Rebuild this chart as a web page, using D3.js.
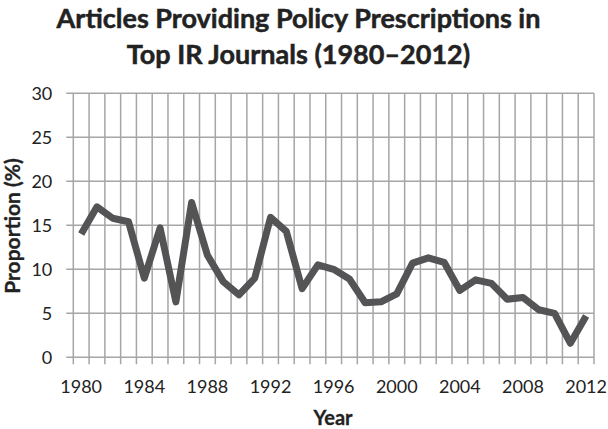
<!DOCTYPE html>
<html><head><meta charset="utf-8">
<script src="https://cdn.jsdelivr.net/npm/d3@7"></script>
<style>body{margin:0;background:#fff}svg{display:block}</style>
</head><body>
<script>
const years = d3.range(1980, 2013);
const values = [14.0,17.1,15.8,15.4,9.0,14.7,6.3,17.6,11.6,8.6,7.1,9.0,15.9,14.3,7.8,10.5,10.0,8.9,6.2,6.3,7.2,10.7,11.3,10.8,7.6,8.8,8.4,6.6,6.8,5.4,5.0,1.6,4.7];
const yTicks = [0,5,10,15,20,25,30];
const xLabels = [1980,1984,1988,1992,1996,2000,2004,2008,2012];
const titleLines = ["Articles Providing Policy Prescriptions in","Top IR Journals (1980–2012)"];

const W=608,H=429;
const m={left:73.3,right:594,top:93.3,bottom:357.3};
const svg=d3.select("body").append("svg").attr("width",W).attr("height",H);
const font="Lato, 'Open Sans', sans-serif";

const x=d3.scaleBand().domain(years).range([m.left,m.right]).padding(0);
const y=d3.scaleLinear().domain([0,30]).range([m.bottom,m.top]);
const grid="#a6a6a6";

// horizontal gridlines with ticks
svg.append("g").selectAll("line").data(yTicks).join("line")
  .attr("x1",m.left-7).attr("x2",m.right).attr("y1",d=>y(d)).attr("y2",d=>y(d))
  .attr("stroke",grid).attr("stroke-width",1.5);
// vertical gridlines at band boundaries
const bounds = years.map(d=>x(d)).concat([x(years[years.length-1])+x.bandwidth()]);
svg.append("g").selectAll("line").data(bounds).join("line")
  .attr("x1",d=>d).attr("x2",d=>d).attr("y1",m.top).attr("y2",m.bottom+7)
  .attr("stroke",grid).attr("stroke-width",1.5);

// y labels
svg.append("g").selectAll("text").data(yTicks).join("text")
  .attr("x",m.left-21).attr("y",d=>y(d)).attr("dy","0.36em").attr("text-anchor","end")
  .attr("font-family",font).attr("font-size",18).attr("fill","#222").text(d=>d);
// x labels
svg.append("g").selectAll("text").data(xLabels).join("text")
  .attr("x",d=>x(d)+x.bandwidth()/2).attr("y",393).attr("text-anchor","middle")
  .attr("font-family",font).attr("font-size",18).attr("fill","#222").text(d=>d);

// line
const line=d3.line().x((d,i)=>x(years[i])+x.bandwidth()/2).y(d=>y(d)).curve(d3.curveLinear);
svg.append("path").datum(values).attr("d",line).attr("fill","none")
  .attr("stroke","#545456").attr("stroke-width",7).attr("stroke-linejoin","round").attr("stroke-linecap","butt");

// titles
svg.append("g").selectAll("text").data(titleLines).join("text")
  .attr("x",298.5).attr("y",(d,i)=>28+i*36).attr("text-anchor","middle")
  .attr("font-family",font).attr("font-weight","bold").attr("font-size",27)
  .attr("fill","#222").attr("stroke","#222").attr("stroke-width",0.5).text(d=>d);
svg.append("text").attr("x",333).attr("y",425).attr("text-anchor","middle")
  .attr("font-family",font).attr("font-weight","bold").attr("font-size",20)
  .attr("fill","#222").attr("stroke","#222").attr("stroke-width",0.3).text("Year");
svg.append("text").attr("transform",`translate(20,226) rotate(-90)`).attr("text-anchor","middle")
  .attr("font-family",font).attr("font-weight","bold").attr("font-size",21)
  .attr("fill","#222").attr("stroke","#222").attr("stroke-width",0.3).text("Proportion (%)");
</script>
</body></html>
